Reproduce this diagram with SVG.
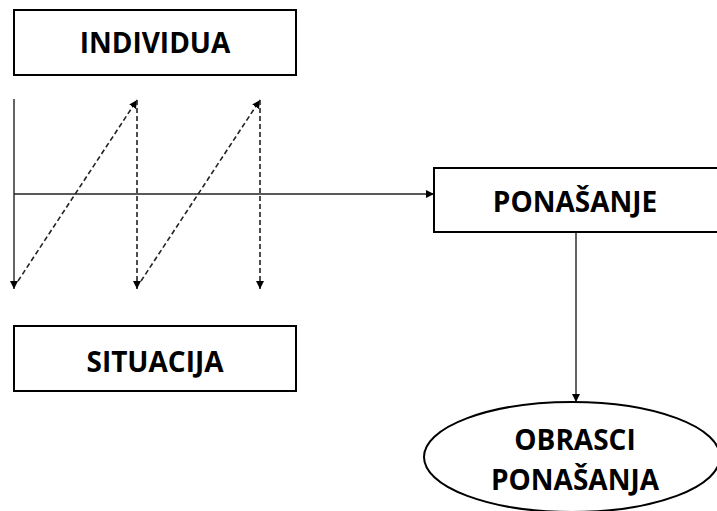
<svg xmlns="http://www.w3.org/2000/svg" width="717" height="511" viewBox="0 0 717 511">
<defs>
<style>
.box{fill:#fff;stroke:#000;stroke-width:2}
.lbl{font-family:"Open Sans","Liberation Sans",sans-serif;font-weight:bold;font-size:28px;fill:#000;text-anchor:middle}
.ln{stroke:#222;stroke-width:1.4;fill:none}
.dash{stroke:#222;stroke-width:1.6;fill:none;stroke-dasharray:5 3}
</style>
<marker id="ah" viewBox="0 0 10 10" refX="10" refY="5" markerWidth="8" markerHeight="8" markerUnits="userSpaceOnUse" orient="auto">
<path d="M0,0 L10,5 L0,10 z" fill="#000"/>
</marker>
</defs>
<g id="connectors">
<line class="ln" x1="14" y1="99" x2="14" y2="289" marker-end="url(#ah)"/>
<line class="ln" x1="14" y1="194" x2="434" y2="194" marker-end="url(#ah)"/>
<line class="dash" x1="18" y1="281" x2="137" y2="100" marker-end="url(#ah)"/>
<line class="dash" x1="137" y1="100" x2="137" y2="289" marker-end="url(#ah)"/>
<line class="dash" x1="141" y1="281" x2="260" y2="100" marker-end="url(#ah)"/>
<line class="dash" x1="260" y1="100" x2="260" y2="289" marker-end="url(#ah)"/>
<line class="ln" x1="576" y1="232" x2="576" y2="402" marker-end="url(#ah)"/>
</g>
<g id="individua">
<rect class="box" x="14" y="10" width="282" height="65"/>
<text class="lbl" x="155" y="53">INDIVIDUA</text>
</g>
<g id="situacija">
<rect class="box" x="14" y="326" width="282" height="65"/>
<text class="lbl" x="155" y="372">SITUACIJA</text>
</g>
<g id="ponasanje">
<rect class="box" x="434" y="168" width="284" height="64"/>
<text class="lbl" x="575" y="212">PONAŠANJE</text>
</g>
<g id="obrasci">
<ellipse class="box" cx="572" cy="457" rx="148" ry="55"/>
<text class="lbl" x="575" y="450">OBRASCI</text>
<text class="lbl" x="575" y="490">PONAŠANJA</text>
</g>
</svg>
